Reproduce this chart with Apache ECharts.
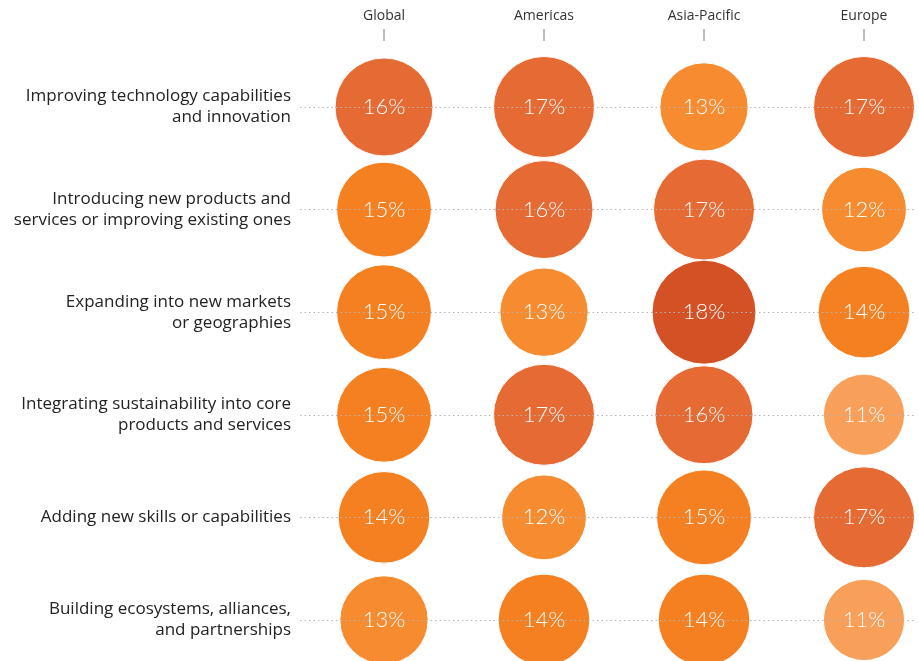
<!DOCTYPE html>
<html>
<head>
<meta charset="utf-8">
<script src="https://cdn.jsdelivr.net/npm/echarts@6/dist/echarts.min.js"></script>
<style>
  html, body { margin: 0; padding: 0; background: #fff; }
  #chart { width: 919px; height: 661px; }
</style>
</head>
<body>
<div id="chart"></div>
<script>
  // regions (columns) and drivers (rows)
  const regions = ['Global', 'Americas', 'Asia-Pacific', 'Europe'];
  const drivers = [
    'Improving technology capabilities\nand innovation',
    'Introducing new products and\nservices or improving existing ones',
    'Expanding into new markets\nor geographies',
    'Integrating sustainability into core\nproducts and services',
    'Adding new skills or capabilities',
    'Building ecosystems, alliances,\nand partnerships'
  ];
  // share (%) per region, one value per driver
  const globalVals = [16, 15, 15, 15, 14, 13];
  const americasVals = [17, 16, 13, 17, 12, 14];
  const asiaVals = [13, 17, 18, 16, 15, 14];
  const europeVals = [17, 12, 14, 11, 17, 11];

  const columns = [globalVals, americasVals, asiaVals, europeVals];

  // colour steps by value
  function colorFor(v) {
    if (v >= 18) return '#d35125';
    if (v >= 16) return '#e66a33';
    if (v >= 14) return '#f48021';
    if (v >= 12) return '#f68c2f';
    return '#f8a05a';
  }

  const points = [];
  columns.forEach((vals, ci) => {
    vals.forEach((v, ri) => points.push([ci, ri, v]));
  });

  const chart = echarts.init(document.getElementById('chart'));
  const option = {
    animation: false,
    grid: [
      { left: 300, right: 4, top: 56, bottom: 0 },
      // header strip from first to last column centre
      { left: 384, right: 55, top: 40, height: 1 }
    ],
    xAxis: [{
      type: 'value',
      gridIndex: 0,
      min: -0.525,
      max: 3.31875,
      show: false
    }, {
      type: 'value',
      gridIndex: 1,
      position: 'top',
      min: 0,
      max: 3,
      interval: 1,
      axisLine: { show: false },
      splitLine: { show: false },
      axisTick: {
        show: true,
        length: 12,
        lineStyle: { color: '#a9a9a9', width: 1.5 }
      },
      axisLabel: {
        showMinLabel: true,
        showMaxLabel: true,
        formatter: v => regions[Math.round(v)],
        margin: 17,
        fontSize: 14,
        color: '#333',
        fontFamily: 'Open Sans, Liberation Sans, sans-serif'
      }
    }],
    yAxis: [{
      type: 'value',
      gridIndex: 0,
      inverse: true,
      min: -0.497,
      max: 5.4,
      axisLine: { show: false },
      axisTick: { show: false },
      splitLine: { show: false },
      axisLabel: {
        customValues: [0, 1, 2, 3, 4, 5],
        formatter: v => drivers[Math.round(v)],
        margin: 9,
        fontSize: 17,
        lineHeight: 21,
        align: 'right',
        color: '#222',
        fontFamily: 'Open Sans, Liberation Sans, sans-serif'
      }
    }, {
      type: 'value',
      gridIndex: 1,
      show: false
    }],
    series: [{
      // dotted row guides, kept behind the bubbles
      type: 'scatter',
      data: [],
      z: 1,
      markLine: {
        silent: true,
        symbol: 'none',
        label: { show: false },
        lineStyle: { color: '#b5b5b5', type: [1.5, 3], width: 1.2 },
        data: drivers.map((d, i) => ({ yAxis: i }))
      }
    }, {
      type: 'scatter',
      clip: false,
      data: points,
      symbolSize: d => 24.5 * Math.sqrt(d[2]),
      itemStyle: {
        color: p => colorFor(p.data[2]),
        borderColor: '#fff',
        borderWidth: 1,
        opacity: 1
      },
      label: {
        show: true,
        position: 'inside',
        formatter: p => p.data[2] + '%',
        color: '#fff',
        fontSize: 22,
        fontWeight: 300,
        fontFamily: 'Lato, Liberation Sans, sans-serif'
      },
      z: 3
    }]
  };
  chart.setOption(option);
</script>
</body>
</html>
